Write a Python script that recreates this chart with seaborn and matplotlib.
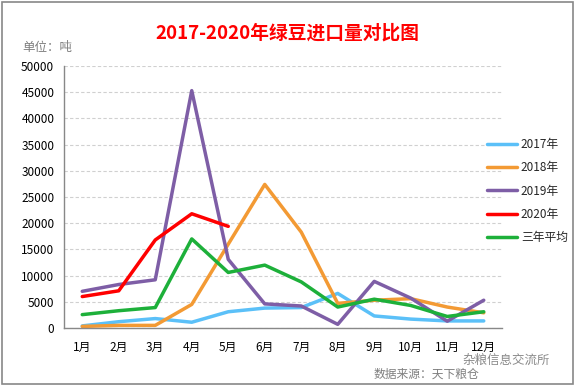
import matplotlib
matplotlib.use("Agg")
import matplotlib.pyplot as plt
import seaborn as sns
import pandas as pd
from matplotlib.patches import Rectangle

months = ["1月", "2月", "3月", "4月", "5月", "6月", "7月", "8月", "9月", "10月", "11月", "12月"]
y2017 = [400, 1200, 1800, 1100, 3100, 3800, 3900, 6600, 2300, 1700, 1350, 1350]
y2018 = [300, 500, 500, 4500, 16000, 27400, 18300, 4700, 5300, 5600, 4000, 2900]
y2019 = [7000, 8300, 9200, 45300, 13100, 4600, 4200, 700, 8900, 5700, 1300, 5300]
y2020 = [6000, 7100, 16800, 21800, 19400]
avg3 = [2550, 3300, 3900, 17000, 10600, 12000, 8800, 4000, 5500, 4300, 2200, 3100]
series_names = ["2017年", "2018年", "2019年", "2020年", "三年平均"]
colors = ["#5BC0F8", "#F39A34", "#7E5EA6", "#FF0000", "#1DB03A"]

rows = []
for name, vals in zip(series_names, [y2017, y2018, y2019, y2020, avg3]):
    for m, v in zip(months, vals):
        rows.append({"月份": m, "吨": v, "系列": name})
df = pd.DataFrame(rows)

sns.set_theme(style="white")
plt.rcParams["font.family"] = ["Noto Sans CJK SC", "DejaVu Sans"]

fig = plt.figure(figsize=(5.76, 3.87), dpi=100)
ax = fig.add_axes([64 / 576, 1 - 328 / 387, (502 - 64) / 576, (328 - 66) / 387])

df["x"] = df["月份"].map({m: i for i, m in enumerate(months)})
sns.lineplot(data=df, x="x", y="吨", hue="系列", hue_order=series_names,
             palette=colors, linewidth=2.5, ax=ax, sort=False, legend=True)

ax.set_xlim(-0.5, 11.5)
ax.set_ylim(0, 50000)
ax.set_yticks(range(0, 50001, 5000))
ax.set_yticklabels([str(v) for v in range(0, 50001, 5000)], fontsize=8.5, color="black")
ax.set_xticks(range(12))
ax.set_xticklabels(months, fontsize=8.5, color="black")
ax.set_xticks([i - 0.5 for i in range(13)], minor=True)
ax.tick_params(axis="x", which="major", length=0, pad=9)
ax.tick_params(axis="x", which="minor", length=5, color="#888888", direction="out")
ax.tick_params(axis="y", length=4, color="#888888", direction="out", pad=3)
ax.set_xlabel("")
ax.set_ylabel("")
for s in ["top", "right"]:
    ax.spines[s].set_visible(False)
for s in ["left", "bottom"]:
    ax.spines[s].set_color("#888888")
    ax.spines[s].set_linewidth(1.0)
ax.yaxis.grid(True, linestyle=(0, (3, 2)), color="#D0D0D0", linewidth=0.8)
ax.set_axisbelow(True)

handles, labels = ax.get_legend_handles_labels()
ax.legend(handles, labels, loc="upper left", bbox_to_anchor=(482 / 576, 1 - 133 / 387),
          bbox_transform=fig.transFigure, frameon=False, fontsize=8.5,
          handlelength=2.6, labelspacing=0.88, handletextpad=0.3, borderaxespad=0)

fig.text(287 / 576, 1 - 33 / 387, "2017-2020年绿豆进口量对比图", color="#FF0000",
         fontsize=13.5, fontweight="bold", ha="center", va="center")
fig.text(22 / 576, 1 - 48 / 387, "单位：吨", color="#7F7F7F", fontsize=9, ha="left", va="center")
fig.text(374 / 576, 1 - 374 / 387, "数据来源：天下粮仓", color="#7F7F7F", fontsize=8.5,
         style="italic", ha="left", va="center")
fig.text(462 / 576, 1 - 360 / 387, "杂粮信息交流所", color="#8A8A8A", fontsize=9,
         ha="left", va="center")

fig.patches.append(Rectangle((2 / 576, 3 / 387), 571 / 576, 382 / 387, transform=fig.transFigure,
                             fill=False, edgecolor="#888888", linewidth=1.2))

fig.savefig("out.png", dpi=100)
